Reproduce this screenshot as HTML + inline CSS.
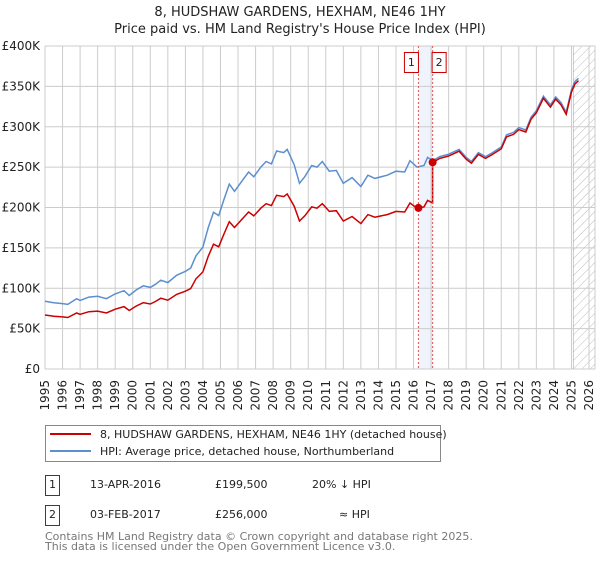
<!DOCTYPE html>
<html><head><meta charset="utf-8"><style>
body{margin:0;background:#fff;font-family:"Liberation Sans","DejaVu Sans",sans-serif;}
svg text{font-family:"DejaVu Sans","Liberation Sans",sans-serif;}
</style></head><body>
<svg id="c" width="600" height="560" xmlns="http://www.w3.org/2000/svg">
<defs><pattern id="hatch" width="6" height="6" patternUnits="userSpaceOnUse" patternTransform="rotate(45)"><line x1="0" y1="0" x2="0" y2="6" stroke="#bbb" stroke-width="1"/></pattern></defs>
<text x="300" y="16" text-anchor="middle" font-size="13" fill="#222">8, HUDSHAW GARDENS, HEXHAM, NE46 1HY</text>
<text x="300" y="33" text-anchor="middle" font-size="13" fill="#222">Price paid vs. HM Land Registry's House Price Index (HPI)</text>
<g id="grid"></g><g id="marks"></g>
<g>
<rect x="45.5" y="425.5" width="395" height="36" fill="#fff" stroke="#888"/>
<line x1="50" y1="434" x2="91" y2="434" stroke="#cc0000" stroke-width="2"/>
<text x="100" y="438" font-size="11" fill="#222">8, HUDSHAW GARDENS, HEXHAM, NE46 1HY (detached house)</text>
<line x1="50" y1="451" x2="91" y2="451" stroke="#5b8fd0" stroke-width="2"/>
<text x="100" y="455" font-size="11" fill="#222">HPI: Average price, detached house, Northumberland</text>
</g>
<g font-size="11" fill="#222">
<rect x="45.5" y="475.5" width="14" height="20" fill="#fff" stroke="#cc0000"/><text x="52.5" y="488" text-anchor="middle">1</text>
<text x="90" y="488">13-APR-2016</text><text x="215" y="488">£199,500</text><text x="312" y="488">20% ↓ HPI</text>
<rect x="45.5" y="505.5" width="14" height="20" fill="#fff" stroke="#cc0000"/><text x="52.5" y="518" text-anchor="middle">2</text>
<text x="90" y="518">03-FEB-2017</text><text x="215" y="518">£256,000</text><text x="339" y="518">≈ HPI</text>
</g>
<text x="45" y="540" font-size="11" fill="#777">Contains HM Land Registry data © Crown copyright and database right 2025.</text>
<text x="45" y="550" font-size="11" fill="#777">This data is licensed under the Open Government Licence v3.0.</text>
</svg>
<script>
const yTicks=[0,50,100,150,200,250,300,350,400];
const yTickLabels=["£0","£50K","£100K","£150K","£200K","£250K","£300K","£350K","£400K"];
const xYears=[1995,1996,1997,1998,1999,2000,2001,2002,2003,2004,2005,2006,2007,2008,2009,2010,2011,2012,2013,2014,2015,2016,2017,2018,2019,2020,2021,2022,2023,2024,2025,2026];
const hpiDates=[1995.0,1995.5,1996.0,1996.3,1996.8,1997.0,1997.5,1998.0,1998.5,1999.0,1999.5,1999.8,2000.2,2000.6,2001.0,2001.3,2001.6,2002.0,2002.5,2003.0,2003.3,2003.6,2004.0,2004.3,2004.6,2004.9,2005.2,2005.5,2005.8,2006.2,2006.6,2006.9,2007.3,2007.6,2007.9,2008.2,2008.6,2008.8,2009.2,2009.5,2009.8,2010.2,2010.5,2010.8,2011.2,2011.6,2012.0,2012.5,2013.0,2013.4,2013.8,2014.5,2015.0,2015.5,2015.8,2016.2,2016.6,2016.8,2017.1,2017.5,2018.0,2018.6,2019.0,2019.3,2019.7,2020.1,2020.5,2021.0,2021.3,2021.7,2022.0,2022.4,2022.7,2023.0,2023.4,2023.8,2024.1,2024.4,2024.7,2025.0,2025.2,2025.4];
const hpiValues=[84,82,81,80,87,85,89,90,87,93,97,91,98,103,101,105,110,107,116,121,125,140,151,175,194,190,210,229,220,232,244,238,250,257,254,270,268,272,253,230,238,252,250,257,245,246,230,237,226,240,236,240,245,244,258,250,252,262,258,263,266,272,262,257,268,263,268,275,290,293,299,296,312,320,338,327,337,330,318,346,356,360];
const saleDates=[2016.28,2017.09];
const salePrices=[199.5,256];
const saleLabels=["1","2"];
const NS="http://www.w3.org/2000/svg";
const X0=45,X1=589,Y0=369,Y1=46;
const xs=t=>X0+(t-1995)*(X1-X0)/31;
const ys=v=>Y0-v*(Y0-Y1)/400;
const grid=document.getElementById('grid'),marks=document.getElementById('marks');
function mk(tag,at,parent){const e=document.createElementNS(NS,tag);for(const k in at)e.setAttribute(k,at[k]);parent.appendChild(e);return e;}
function hpiAt(t){for(let i=1;i<hpiDates.length;i++){if(t<=hpiDates[i]){const f=(t-hpiDates[i-1])/(hpiDates[i]-hpiDates[i-1]);return hpiValues[i-1]+f*(hpiValues[i]-hpiValues[i-1]);}}return hpiValues[hpiValues.length-1];}
const sh=mk('rect',{x:xs(saleDates[0]),y:Y1,width:xs(saleDates[1])-xs(saleDates[0]),height:Y0-Y1,fill:'#eef3fc'},grid);


const ht=mk('rect',{x:xs(2025.1),y:Y1,width:X1+6-xs(2025.1),height:Y0-Y1,fill:'url(#hatch)',stroke:'#999','stroke-width':0.5},grid);


yTicks.forEach((v,i)=>{
 const l=mk('line',{x1:X0,x2:X1+6,y1:ys(v),y2:ys(v),stroke:'#ccc'},grid);
 
 
 const t=mk('text',{x:X0-5,y:ys(v)+4,'text-anchor':'end','font-size':12,fill:'#222'},grid);t.textContent=yTickLabels[i];
 
 
});
xYears.forEach(yr=>{
 const l=mk('line',{x1:xs(yr),x2:xs(yr),y1:Y1,y2:Y0,stroke:'#ccc'},grid);
 
 
 const t=mk('text',{x:xs(yr),y:Y0+7,'text-anchor':'end','font-size':12,fill:'#222',transform:`rotate(-90 ${xs(yr)+4} ${Y0+7})`},grid);t.textContent=yr;
 
 
});
mk('line',{x1:X0,x2:X0,y1:Y1,y2:Y0,stroke:'#ccc'},grid);
let d='';hpiDates.forEach((t,i)=>d+=(i?'L':'M')+xs(t).toFixed(1)+','+ys(hpiValues[i]).toFixed(1));
const hp=mk('path',{d,fill:'none',stroke:'#5b8fd0','stroke-width':1.5},marks);


const r1=salePrices[0]/hpiAt(saleDates[0]),r2=salePrices[1]/hpiAt(saleDates[1]);
const pts=[];
hpiDates.forEach((t,i)=>{if(t<saleDates[1])pts.push([t,hpiValues[i]*r1]);});
pts.push([saleDates[1],hpiAt(saleDates[1])*r1]);
pts.push([saleDates[1],salePrices[1]]);
hpiDates.forEach((t,i)=>{if(t>saleDates[1])pts.push([t,hpiValues[i]*r2]);});
let d2='';pts.forEach((p,i)=>d2+=(i?'L':'M')+xs(p[0]).toFixed(1)+','+ys(p[1]).toFixed(1));
const pp=mk('path',{d:d2,fill:'none',stroke:'#cc0000','stroke-width':1.5},marks);


saleDates.forEach((t,i)=>{
 const l=mk('line',{x1:xs(t),x2:xs(t),y1:Y1,y2:Y0,stroke:'#e05555','stroke-dasharray':'2,2'},marks);
 
 
 const c=mk('circle',{cx:xs(t),cy:ys(salePrices[i]),r:4,fill:'#cc0000'},marks);
 
 
 const bx=i==0?xs(t)-14:xs(t)-0.5;
 const b=mk('rect',{x:bx,y:52.5,width:14,height:20,fill:'#fff',stroke:'#cc0000'},marks);
 
 
 const tx=mk('text',{x:bx+7,y:66,'text-anchor':'middle','font-size':11,fill:'#222'},marks);tx.textContent=saleLabels[i];
 
 
});
</script>
</body></html>
